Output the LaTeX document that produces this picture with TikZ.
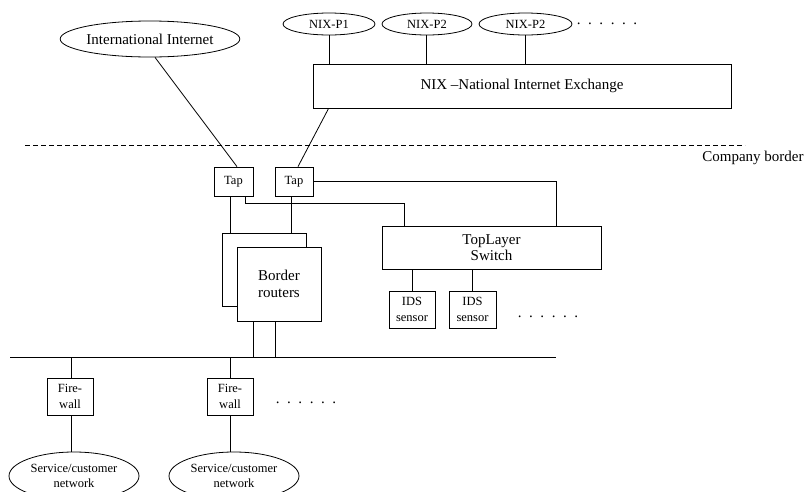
\documentclass[tikz,border=0pt]{standalone}
\usepackage{fontspec}
\setmainfont{Liberation Serif}
\usetikzlibrary{shapes.geometric}

% six spaced dots used as "and so on" marks
\newcommand{\moredots}{.\hspace{7.6pt}.\hspace{7.6pt}.\hspace{7.6pt}.\hspace{7.6pt}.\hspace{7.6pt}.}

\tikzset{
  wire/.style={line width=0.8pt},
  bigtext/.style={font=\fontsize{15}{16.5}\selectfont, align=center},
  smalltext/.style={font=\fontsize{12.5}{15.5}\selectfont, align=center},
  cloud/.style={ellipse, draw, line width=0.8pt, inner sep=0pt},
  unit/.style={rectangle, draw, line width=0.8pt, inner sep=0pt},
  dotrow/.style={font=\fontsize{15}{16}\selectfont, inner sep=0pt},
}

\begin{document}
\begin{tikzpicture}[x=1pt, y=-1pt]
  \clip (0,0) rectangle (804,491);
  \fill[white] (0,0) rectangle (804,491);

  % upstream networks
  \node[cloud, bigtext, minimum width=174pt, minimum height=36pt] (inet) at (150,39) {International Internet};
  \node[cloud, smalltext, minimum width=92pt, minimum height=22pt] (p1) at (329,24) {NIX-P1};
  \node[cloud, smalltext, minimum width=90pt, minimum height=22pt] (p2) at (427,24) {NIX-P2};
  \node[cloud, smalltext, minimum width=93pt, minimum height=22pt] (p3) at (525.5,24) {NIX-P2};
  \node[dotrow] (pdots) at (607,24) {\moredots};

  \node[unit, bigtext, minimum width=418pt, minimum height=44pt] (nix) at (522,86) {NIX --National Internet Exchange};

  \draw[wire] (p1.south) -- (p1.south |- nix.north);
  \draw[wire] ([xshift=-1pt]p2.south) -- ([xshift=-1pt]p2.south |- nix.north);
  \draw[wire] ([xshift=-0.5pt]p3.south) -- ([xshift=-0.5pt]p3.south |- nix.north);

  % company border
  \coordinate (borderL) at (25,145);
  \coordinate (borderR) at (745,145);
  \draw[line width=0.6pt, dash pattern=on 5pt off 3pt] (borderL) -- (borderR);
  \node[bigtext, inner sep=0pt] (bordertext) at (753,158) {Company border};

  % taps
  \node[unit, smalltext, minimum width=39pt, minimum height=29pt] (tap1) at (233.5,181.5) {Tap};
  \node[unit, smalltext, minimum width=38pt, minimum height=29pt] (tap2) at (294,181.5) {Tap};

  \draw[wire] ([xshift=5pt]inet.south) -- ([xshift=3.5pt]tap1.north);
  \draw[wire] ([xshift=16pt]nix.south west) -- ([xshift=4pt]tap2.north);

  % border routers (two stacked boxes)
  \node[unit, bigtext, minimum width=84pt, minimum height=74pt] (br) at (279,284) {Border\\routers};
  \coordinate (bk-nw) at (222,233);
  \coordinate (bk-ne) at (306,233);
  \coordinate (bk-sw) at (222,306);
  \draw[wire] (br.north -| bk-ne) -- (bk-ne) -- (bk-nw) -- (bk-sw) -- (bk-sw -| br.west);

  \draw[wire] ([xshift=-3.5pt]tap1.south) -- ([xshift=-3.5pt]tap1.south |- bk-nw);
  \draw[wire] ([xshift=-3pt]tap2.south) -- ([xshift=-3pt]tap2.south |- bk-nw);

  % TopLayer switch and IDS sensors
  \node[unit, bigtext, minimum width=219pt, minimum height=43pt] (tl) at (491.5,247.5) {TopLayer\\Switch};
  \draw[wire] (tap2.east) -| ([xshift=64.5pt]tl.north);
  \draw[wire] ([xshift=11.5pt]tap1.south) -- ++(0,7) -| ([xshift=-87.5pt]tl.north);

  \node[unit, smalltext, minimum width=46pt, minimum height=37pt] (ids1) at (412,309.5) {IDS\\sensor};
  \node[unit, smalltext, minimum width=47pt, minimum height=37pt] (ids2) at (472.5,309.5) {IDS\\sensor};
  \node[dotrow] (idsdots) at (548,317) {\moredots};
  \draw[wire] (ids1.north) -- (ids1.north |- tl.south);
  \draw[wire] (ids2.north) -- (ids2.north |- tl.south);

  % internal bus
  \coordinate (busL) at (10,357);
  \coordinate (busR) at (556,357);
  \draw[wire] (busL) -- (busR);
  \draw[wire] ([xshift=-26pt]br.south) -- ([xshift=-26pt]br.south |- busL);
  \draw[wire] ([xshift=-4pt]br.south) -- ([xshift=-4pt]br.south |- busL);

  % firewalls and protected networks
  \node[unit, smalltext, minimum width=46pt, minimum height=37pt] (fw1) at (70,396.5) {Fire-\\wall};
  \node[unit, smalltext, minimum width=46pt, minimum height=37pt] (fw2) at (230,396.5) {Fire-\\wall};
  \node[dotrow] (fwdots) at (306,403) {\moredots};

  \node[cloud, smalltext, minimum width=130pt, minimum height=48pt] (svc1) at (74,476) {Service/customer\\network};
  \node[cloud, smalltext, minimum width=130pt, minimum height=48pt] (svc2) at (234,476) {Service/customer\\network};

  \draw[wire] ([xshift=1pt]fw1.north) -- ([xshift=1pt]fw1.north |- busL);
  \draw[wire] (fw2.north) -- (fw2.north |- busL);
  \draw[wire] ([xshift=1pt]fw1.south) -- ([xshift=1pt]fw1.south |- svc1.north);
  \draw[wire] (fw2.south) -- (fw2.south |- svc2.north);
\end{tikzpicture}
\end{document}
